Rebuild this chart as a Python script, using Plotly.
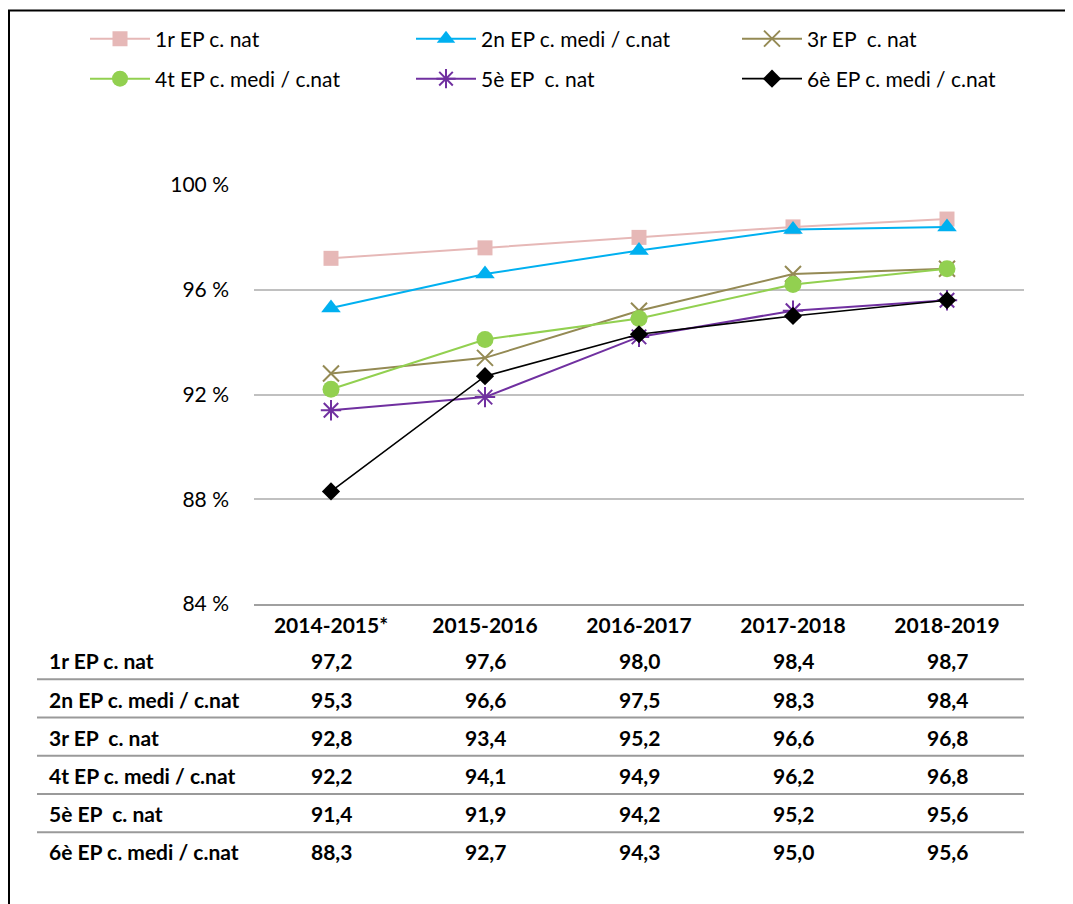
import plotly.graph_objects as go

cursos = ["2014-2015*", "2015-2016", "2016-2017", "2017-2018", "2018-2019"]

nivells = [
    "1r EP c. nat",
    "2n EP c. medi / c.nat",
    "3r EP  c. nat",
    "4t EP c. medi / c.nat",
    "5è EP  c. nat",
    "6è EP c. medi / c.nat",
]

primer = [97.2, 97.6, 98.0, 98.4, 98.7]
segon = [95.3, 96.6, 97.5, 98.3, 98.4]
tercer = [92.8, 93.4, 95.2, 96.6, 96.8]
quart = [92.2, 94.1, 94.9, 96.2, 96.8]
cinque = [91.4, 91.9, 94.2, 95.2, 95.6]
sise = [88.3, 92.7, 94.3, 95.0, 95.6]

valors = [primer, segon, tercer, quart, cinque, sise]

colors = ["#e6b8b7", "#00b0f0", "#948a54", "#92d050", "#7030a0", "#000000"]
symbols = ["square", "triangle-up", "x-thin-open", "circle", "asterisk-open", "diamond"]
sizes = [15, 17, 16, 17, 17, 14]
legends = ["legend", "legend", "legend", "legend2", "legend2", "legend2"]

FONT = "Lato, 'Open Sans', sans-serif"

# the page body adds an 8px margin, so work in screen pixels and shift back
OFF = 8
W, H = 1073 - OFF, 904 - OFF
PL, PT, PH, PW = 254 - OFF, 184 - OFF, 420, 770


def py(p):
    return (PT + PH - (p - OFF)) / PH


def px(p):
    return ((p - OFF) - PL) / PW


fig = go.Figure()
for i, nom in enumerate(nivells):
    thin = symbols[i] in ("x-thin-open", "asterisk-open")
    fig.add_trace(go.Scatter(
        x=cursos,
        y=valors[i],
        mode="lines+markers",
        name=nom,
        legend=legends[i],
        line=dict(color=colors[i], width=2 if i != 5 else 1.6),
        marker=dict(symbol=symbols[i], size=sizes[i], color=colors[i],
                    line=dict(color=colors[i], width=2 if thin else 0)),
    ))

annotations = []
shapes = []
for i, nom in enumerate(nivells):
    yrow = py(661 + 38.3 * i)
    annotations.append(dict(
        x=px(47), y=yrow, xref="paper", yref="paper", text=f"<b>{nom}</b>",
        showarrow=False, xanchor="left", yanchor="middle",
        font=dict(size=21, color="#000000", family=FONT)))
    for j, c in enumerate(cursos):
        annotations.append(dict(
            x=c, y=yrow, xref="x", yref="paper",
            text="<b>" + f"{valors[i][j]:.1f}".replace(".", ",") + "</b>",
            showarrow=False, xanchor="center", yanchor="middle",
            font=dict(size=21, color="#000000", family=FONT)))
    if i < len(nivells) - 1:
        ys = py(679.5 + 38.3 * i)
        shapes.append(dict(type="line", xref="paper", yref="paper",
                           x0=px(37), x1=1.0, y0=ys, y1=ys,
                           line=dict(color="#9a9a9a", width=2)))

# outer frame (only top and left edges visible in the picture)
shapes.append(dict(type="rect", xref="paper", yref="paper",
                   x0=px(OFF + 1), x1=px(1200), y0=py(OFF + 1), y1=py(1000),
                   line=dict(color="#000000", width=2)))

leg = dict(orientation="h", xanchor="left", yanchor="middle",
           entrywidth=251, entrywidthmode="pixels", itemwidth=60,
           font=dict(size=21), bgcolor="rgba(0,0,0,0)")

fig.update_layout(
    width=W,
    height=H,
    margin=dict(l=PL, r=W - PL - PW, t=PT, b=H - PT - PH),
    paper_bgcolor="white",
    plot_bgcolor="white",
    font=dict(family=FONT, size=21, color="#000000"),
    annotations=annotations,
    shapes=shapes,
    legend=dict(leg, x=px(85), y=py(39)),
    legend2=dict(leg, x=px(85), y=py(79)),
)

fig.update_xaxes(
    range=[-0.5, 4.5],
    showgrid=False,
    showline=True,
    linecolor="#a0a0a0",
    linewidth=2,
    ticks="",
    tickfont=dict(size=21, color="#000000", family=FONT, weight="bold"),
    ticklabelstandoff=2,
)
fig.update_yaxes(
    range=[84, 100],
    dtick=4,
    ticksuffix=" %",
    showgrid=True,
    gridcolor="#c0c0c0",
    gridwidth=1.5,
    zeroline=False,
    ticks="",
    tickfont=dict(size=21, color="#000000", family=FONT),
    ticklabelstandoff=24,
)

fig.write_html("out.html")
